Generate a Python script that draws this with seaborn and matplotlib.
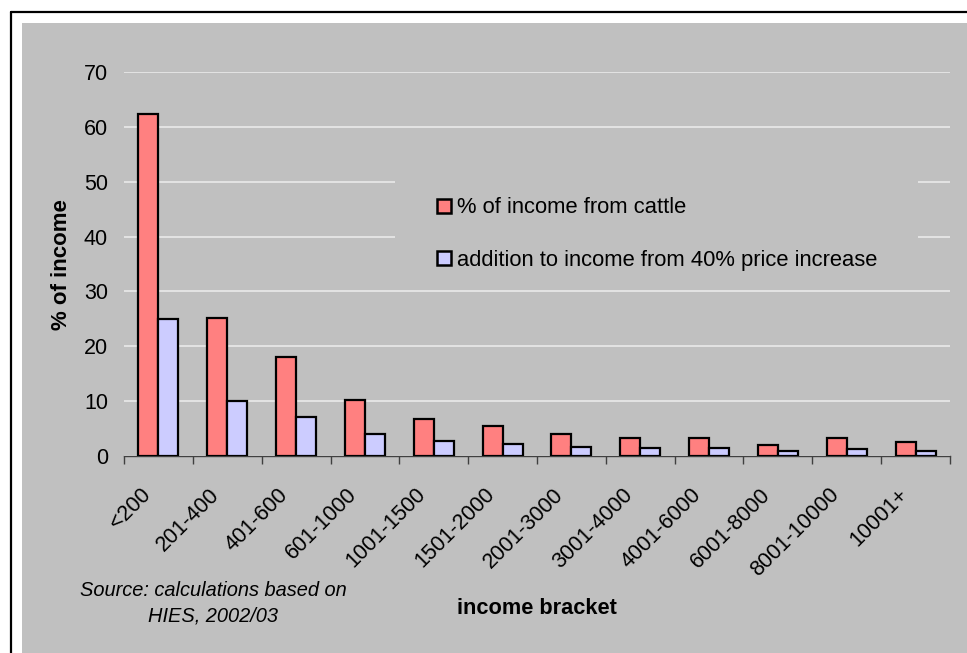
import matplotlib
matplotlib.use("Agg")
import matplotlib.pyplot as plt
import matplotlib.transforms as mtransforms
from matplotlib.patches import Rectangle
from matplotlib.lines import Line2D
import seaborn as sns
import pandas as pd
import numpy as np

brackets = ["<200", "201-400", "401-600", "601-1000", "1001-1500", "1501-2000",
            "2001-3000", "3001-4000", "4001-6000", "6001-8000", "8001-10000", "10001+"]
cattle_share = [62.3, 25.1, 18.1, 10.2, 6.8, 5.4, 4.0, 3.35, 3.35, 2.0, 3.3, 2.5]
price_addition = [24.9, 10.0, 7.2, 4.1, 2.8, 2.25, 1.7, 1.4, 1.4, 0.9, 1.35, 1.0]
series_names = ["% of income from cattle", "addition to income from 40% price increase"]
y_ticks = [0, 10, 20, 30, 40, 50, 60, 70]

df = pd.DataFrame({
    "bracket": brackets * 2,
    "value": cattle_share + price_addition,
    "series": [series_names[0]] * len(brackets) + [series_names[1]] * len(brackets),
})

sns.set_theme(style="white")
plt.rcParams["font.family"] = ["Liberation Sans", "DejaVu Sans"]
plt.rcParams["text.color"] = "black"
plt.rcParams["axes.labelcolor"] = "black"
plt.rcParams["xtick.color"] = "black"
plt.rcParams["ytick.color"] = "black"

W, H = 967, 653
fig = plt.figure(figsize=(W / 100, H / 100), dpi=100)
fig.patch.set_facecolor("white")
GRAY = "#C0C0C0"
FS = 15.5

# gray chart area and black frame (cut off at right/bottom)
fig.patches.append(Rectangle((22 / W, 0), 1, (H - 23) / H, transform=fig.transFigure,
                             facecolor=GRAY, edgecolor="none", zorder=-5))
fig.lines.append(Line2D([11 / W, 11 / W], [0, (H - 12) / H], transform=fig.transFigure,
                        color="black", lw=1.6, zorder=-4))
fig.lines.append(Line2D([11 / W, 1], [(H - 12) / H, (H - 12) / H], transform=fig.transFigure,
                        color="black", lw=1.6, zorder=-4))

x0, x1 = 124, 950
y0, y1 = 456, 72
ax = fig.add_axes([x0 / W, (H - y0) / H, (x1 - x0) / W, (y0 - y1) / H])
ax.set_facecolor("none")

sns.barplot(data=df, x="bracket", y="value", hue="series",
            palette=["#FF8080", "#CCCCFF"], edgecolor="black", linewidth=1.6,
            width=0.58, ax=ax, saturation=1, zorder=3)

ax.set_xlim(-0.5, len(brackets) - 0.5)
ax.set_ylim(0, 70)
ax.set_yticks(y_ticks)
ax.set_yticklabels([str(t) for t in y_ticks], fontsize=FS)
ax.tick_params(axis="y", length=0, pad=11.5, colors="black")
ax.yaxis.grid(True, color="#EDEDED", lw=1.1, zorder=0)
ax.set_axisbelow(True)

for s in ["top", "right", "left"]:
    ax.spines[s].set_visible(False)
ax.spines["bottom"].set_color("#404040")
ax.spines["bottom"].set_linewidth(1.0)

# tick marks at category boundaries, labels at centers
ax.set_xticks(np.arange(-0.5, len(brackets), 1.0))
ax.set_xticklabels([])
ax.tick_params(axis="x", which="major", length=6, width=1.0, color="#404040", direction="out", bottom=True)
ax.set_xticks(np.arange(len(brackets)), minor=True)
ax.set_xticklabels(brackets, minor=True, fontsize=FS, rotation=45, ha="right",
                   va="center", rotation_mode="anchor")
ax.tick_params(axis="x", which="minor", length=0, pad=25.5)
offset = mtransforms.ScaledTranslation(-11 / 100, 0, fig.dpi_scale_trans)
for lab in ax.get_xticklabels(minor=True):
    lab.set_transform(lab.get_transform() + offset)

ax.set_xlabel("income bracket", fontsize=15.7, fontweight="bold")
ax.xaxis.set_label_coords(0.5, (y0 - 609) / (y0 - y1), transform=ax.transAxes)
ax.xaxis.label.set_va("center")
ax.set_ylabel("% of income", fontsize=16, fontweight="bold")
ax.yaxis.set_label_coords((62 - x0) / (x1 - x0), (y0 - 265) / (y0 - y1))
ax.yaxis.label.set_va("center")

# legend with gray background hiding gridlines
old = ax.get_legend()
handles = old.legend_handles
labels = [t.get_text() for t in old.get_texts()]
old.remove()
for h in handles:
    h.set_edgecolor("black")
    h.set_linewidth(1.8)
ax.add_patch(Rectangle(((395 - x0) / (x1 - x0), (y0 - 285) / (y0 - y1)),
                       (918 - 395) / (x1 - x0), (285 - 165) / (y0 - y1),
                       transform=ax.transAxes, facecolor=GRAY, edgecolor="none", zorder=1))
leg = ax.legend(handles, labels, loc="center left",
                bbox_to_anchor=((437 - x0) / (x1 - x0), (y0 - 234) / (y0 - y1)),
                frameon=False, fontsize=15.8, borderpad=0, borderaxespad=0,
                handlelength=0.62, handleheight=0.62, handletextpad=0.3,
                labelspacing=1.42)

fig.text(213 / W, 1 - 591 / H, "Source: calculations based on", ha="center", va="center",
         fontsize=14.4, style="italic")
fig.text(213 / W, 1 - 616 / H, "HIES, 2002/03", ha="center", va="center",
         fontsize=14.4, style="italic")

fig.savefig("out.png", dpi=100, facecolor=fig.get_facecolor())
